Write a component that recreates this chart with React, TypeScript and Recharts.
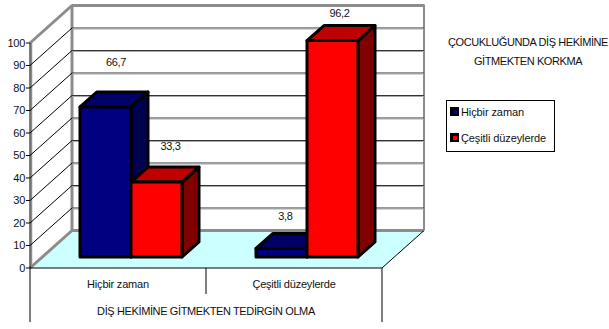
import { BarChart, Bar, XAxis, YAxis, CartesianGrid, LabelList, Legend } from 'recharts'

const categories = ['Hiçbir zaman', 'Çeşitli düzeylerde']
const seriesNames = ['Hiçbir zaman', 'Çeşitli düzeylerde']
const neverValues = [66.7, 3.8]
const variousValues = [33.3, 96.2]
const yTicks = [0, 10, 20, 30, 40, 50, 60, 70, 80, 90, 100]
const titleLines = ['ÇOCUKLUĞUNDA DİŞ HEKİMİNE', 'GİTMEKTEN KORKMA']
const axisTitle = 'DİŞ HEKİMİNE GİTMEKTEN TEDİRGİN OLMA'

const chartData = categories.map((name, i) => ({
  name,
  never: neverValues[i],
  various: variousValues[i],
}))

const FONT = '"Liberation Sans", Arial, sans-serif'

// wall depth and where the bars sit inside it
const WALL_DX = 42
const WALL_DY = 37.5
const BAR_SHIFT_X = 12.5
const BAR_SHIFT_Y = 11
const BAR_DX = 17
const BAR_DY = 15

const BLUE = { front: '#000080', top: '#000066', side: '#000050' }
const RED = { front: '#ff0000', top: '#c00000', side: '#800000' }

// label nudges [x from bar centre, y above bar top], per category
const neverLabelNudge = [[10.5, 45], [4, 32]]
const variousLabelNudge = [[14, 36], [7, 28]]

function Box3D(props: any) {
  const { x, y, width, height, colors } = props
  const l = x + BAR_SHIFT_X
  const r = l + width
  const t = y - BAR_SHIFT_Y
  const b = t + height
  const stroke = { stroke: '#000', strokeWidth: 3, strokeLinejoin: 'round' as const }
  return (
    <g>
      <polygon points={`${r},${t} ${r + BAR_DX},${t - BAR_DY} ${r + BAR_DX},${b - BAR_DY} ${r},${b}`} fill={colors.side} {...stroke} />
      <polygon points={`${l},${t} ${l + BAR_DX},${t - BAR_DY} ${r + BAR_DX},${t - BAR_DY} ${r},${t}`} fill={colors.top} {...stroke} />
      <rect x={l} y={t} width={width} height={height} fill={colors.front} {...stroke} />
    </g>
  )
}

// each gridline runs along the side wall then across the back wall;
// the floor and the outer frame hang off the first and last lines
function WallLine(props: any) {
  const { x1, x2, y1, index } = props
  const y = y1
  const backY = y - WALL_DY
  const isTop = Math.abs(y - 43) < 1
  const isFloor = Math.abs(y - 268) < 1
  const gray = '#8c8c8c'
  if (isFloor) {
    const mid = (x1 + x2) / 2
    return (
      <g key={`wall-${index}`}>
        <polygon points={`${x1},${y} ${x2},${y} ${x2 + WALL_DX},${backY} ${x1 + WALL_DX},${backY}`} fill="#ccffff" />
        <line x1={x1 + WALL_DX} y1={backY} x2={x2 + WALL_DX} y2={backY} stroke={gray} strokeWidth={3} />
        <line x1={x1} y1={y} x2={x1 + WALL_DX} y2={backY} stroke={gray} strokeWidth={3} />
        <line x1={x2} y1={y} x2={x2 + WALL_DX} y2={backY} stroke="#000" strokeWidth={1} />
        <line x1={x2 + WALL_DX} y1={backY} x2={x2 + WALL_DX} y2={backY - 226} stroke={gray} strokeWidth={2} />
        <line x1={x1 + WALL_DX} y1={backY} x2={x1 + WALL_DX} y2={backY - 226} stroke={gray} strokeWidth={3} />
        <line x1={x1 + 1.5} y1={y} x2={x1 + 1.5} y2={y - 225} stroke={gray} strokeWidth={1.5} />
        <line x1={x1} y1={y} x2={x1} y2={322} stroke="#000" strokeWidth={1} />
        <line x1={mid} y1={y} x2={mid} y2={294} stroke="#000" strokeWidth={1} />
        <line x1={x2} y1={y} x2={x2} y2={322} stroke="#000" strokeWidth={1} />
      </g>
    )
  }
  if (isTop) {
    return (
      <g key={`wall-${index}`}>
        <line x1={x1 + WALL_DX} y1={backY} x2={x2 + WALL_DX} y2={backY} stroke={gray} strokeWidth={3} />
        <line x1={x1} y1={y} x2={x1 + WALL_DX} y2={backY} stroke={gray} strokeWidth={3} />
      </g>
    )
  }
  return (
    <g key={`wall-${index}`}>
      <line x1={x1} y1={y} x2={x1 + WALL_DX} y2={backY} stroke="#000" strokeWidth={1} />
      <line x1={x1 + WALL_DX} y1={backY} x2={x2 + WALL_DX} y2={backY} stroke="#333" strokeWidth={1} />
      <line x1={x1 + WALL_DX} y1={backY + 1} x2={x2 + WALL_DX} y2={backY + 1} stroke="#aaa" strokeWidth={1} />
    </g>
  )
}

function valueLabel(nudges: number[][]) {
  return (props: any) => {
    const { x, y, width, value, index } = props
    const [dx, lift] = nudges[index]
    return (
      <text
        x={x + BAR_SHIFT_X + width / 2 + dx}
        y={y - BAR_SHIFT_Y - lift + 4}
        textAnchor="middle"
        fontSize={11}
        letterSpacing={-0.3}
        fontFamily={FONT}
        fill="#111"
      >
        {String(value).replace('.', ',')}
      </text>
    )
  }
}

function LegendBox() {
  const swatches = [BLUE.front, RED.front]
  return (
    <div style={{ width: 109, height: 52, boxSizing: 'border-box', border: '1px solid #000', background: '#fff', fontFamily: FONT, fontSize: 11, letterSpacing: -0.1, color: '#111' }}>
      {seriesNames.map((name, i) => (
        <div key={name} style={{ position: 'absolute', left: 4, top: 6 + i * 26, display: 'flex', alignItems: 'center', height: 11 }}>
          <span style={{ width: 9, height: 9, background: '#000', display: 'inline-flex', alignItems: 'center', justifyContent: 'center', marginRight: 2 }}>
            <span style={{ width: 4, height: 4, background: swatches[i] }} />
          </span>
          {name}
        </div>
      ))}
    </div>
  )
}

export default function App() {
  return (
    <div style={{ position: 'absolute', left: 0, top: 0, width: 609, height: 329, overflow: 'hidden', background: '#fff' }}>
      <BarChart
        width={609}
        height={329}
        data={chartData}
        margin={{ top: 43, right: 227, bottom: 7, left: 0 }}
        barCategoryGap={37.5}
        barGap={0}
      >
        <CartesianGrid vertical={false} horizontal={WallLine as any} />
        <XAxis
          dataKey="name"
          height={54}
          axisLine={{ stroke: '#000' }}
          tickLine={false}
          tickMargin={6}
          tick={{ fontSize: 11, fontFamily: FONT, fill: '#111', letterSpacing: -0.2 }}
          label={{ value: axisTitle, position: 'insideBottom', offset: 7, fontSize: 11, fontFamily: FONT, fill: '#111', letterSpacing: -0.38 }}
        />
        <YAxis
          width={30}
          domain={[0, 100]}
          ticks={yTicks}
          interval={0}
          axisLine={{ stroke: '#000', strokeWidth: 1 }}
          tickLine={{ stroke: '#000' }}
          tickSize={4}
          tickMargin={1}
          tick={{ fontSize: 11, fontFamily: FONT, fill: '#111', letterSpacing: -0.3 }}
        />
        <Legend
          layout="horizontal"
          verticalAlign="middle"
          content={() => <LegendBox />}
          wrapperStyle={{ position: 'absolute', left: 446, top: 100, width: 109, height: 52 }}
        />
        <Bar dataKey="never" name={seriesNames[0]} isAnimationActive={false} shape={(p: any) => <Box3D {...p} colors={BLUE} />}>
          <LabelList dataKey="never" content={valueLabel(neverLabelNudge) as any} />
        </Bar>
        <Bar dataKey="various" name={seriesNames[1]} isAnimationActive={false} shape={(p: any) => <Box3D {...p} colors={RED} />}>
          <LabelList dataKey="various" content={valueLabel(variousLabelNudge) as any} />
        </Bar>
      </BarChart>
      <div style={{ position: 'absolute', left: 428, top: 33, width: 200, textAlign: 'center', fontFamily: FONT, fontSize: 11, letterSpacing: -0.42, lineHeight: '19px', color: '#111' }}>
        {titleLines.map((line) => (
          <div key={line}>{line}</div>
        ))}
      </div>
    </div>
  )
}
